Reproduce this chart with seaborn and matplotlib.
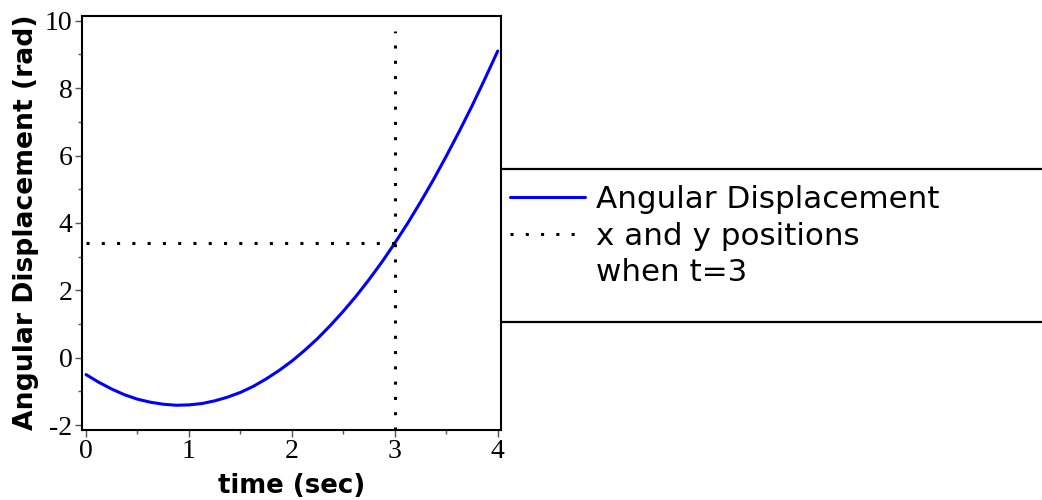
import matplotlib
matplotlib.use("Agg")
import matplotlib.pyplot as plt
from matplotlib.lines import Line2D
from matplotlib.ticker import MultipleLocator
import seaborn as sns
import pandas as pd

# Angular displacement of the body over time (rad), sampled every 0.125 s
time_sec = [0.0, 0.125, 0.25, 0.375, 0.5, 0.625, 0.75, 0.875, 1.0,
            1.125, 1.25, 1.375, 1.5, 1.625, 1.75, 1.875, 2.0,
            2.125, 2.25, 2.375, 2.5, 2.625, 2.75, 2.875, 3.0,
            3.125, 3.25, 3.375, 3.5, 3.625, 3.75, 3.875, 4.0]
angle_rad = [-0.50, -0.73, -0.93, -1.10, -1.23, -1.32, -1.38, -1.41, -1.40,
             -1.36, -1.28, -1.17, -1.03, -0.85, -0.63, -0.38, -0.10,
             0.22, 0.57, 0.96, 1.38, 1.83, 2.32, 2.84, 3.40,
             3.99, 4.62, 5.28, 5.98, 6.71, 7.47, 8.27, 9.10]

# Guide lines marking the position at t = 3
t_mark = 3.0
angle_mark = 3.40
guide_x_start = 0.0
guide_y_range = [-2.13, 9.7]

x_ticks = [0, 1, 2, 3, 4]
y_ticks = [-2, 0, 2, 4, 6, 8, 10]

# Legend rows; the guide-line label wraps onto a second row
series_labels = ["Angular Displacement", "x and y positions", "when t=3"]

sns.set_style("white")
plt.rcParams["font.family"] = ["DejaVu Sans"]
plt.rcParams["text.color"] = "black"
plt.rcParams["axes.labelcolor"] = "black"
plt.rcParams["xtick.color"] = "black"
plt.rcParams["ytick.color"] = "black"

df = pd.DataFrame({"time": time_sec, "angle": angle_rad})

W, H = 1042, 500
fig = plt.figure(figsize=(W / 100, H / 100), dpi=100)
ax = fig.add_axes([82 / W, 1 - 429.5 / H, (501 - 82) / W, (429.5 - 16) / H])

sns.lineplot(data=df, x="time", y="angle", ax=ax, color=(0, 0, 1),
             linewidth=2.2, legend=False)
curve_line = ax.get_lines()[0]

dot_style = dict(color="black", linewidth=2.2, linestyle=(0, (1, 4)),
                 dash_capstyle="butt")
guide_line, = ax.plot([guide_x_start, t_mark], [angle_mark, angle_mark],
                      **dot_style)
ax.plot([t_mark, t_mark], guide_y_range, **dot_style)

ax.set_xlim(-0.039, 4.032)
ax.set_ylim(-2.13, 10.14)
ax.set_xticks(x_ticks)
ax.set_yticks(y_ticks)
ax.xaxis.set_minor_locator(MultipleLocator(0.5))
ax.yaxis.set_minor_locator(MultipleLocator(1))

tick_font = dict(family="Liberation Serif", size=20, color="black")
ax.set_xticklabels([str(v) for v in x_ticks], fontdict=tick_font)
ax.set_yticklabels([str(v) for v in y_ticks], fontdict=tick_font)
ax.tick_params(which="major", direction="out", length=5, width=1,
               color="#555555", pad=2)
ax.tick_params(which="minor", direction="out", length=3, width=1,
               color="#555555")
ax.tick_params(axis="x", which="both", bottom=True)
ax.tick_params(axis="y", which="both", left=True)

for spine in ax.spines.values():
    spine.set_visible(True)
    spine.set_color("black")
    spine.set_linewidth(1.5)

ax.set_xlabel("time (sec)", fontsize=18.7, fontweight="bold", labelpad=6,
              color="black")
ax.set_ylabel("Angular Displacement (rad)", fontsize=19.2, fontweight="bold",
              labelpad=4, color="black")

# Legend panel: open-ended box formed by a top and bottom rule
for y_px in (169, 322):
    fig.add_artist(Line2D([501 / W, 1.0], [1 - y_px / H, 1 - y_px / H],
                          transform=fig.transFigure, color="black",
                          linewidth=1.6))

blank_handle = Line2D([], [], linestyle="none")
leg = fig.legend([curve_line, guide_line, blank_handle], series_labels,
                 loc="upper left", bbox_to_anchor=(501 / W, 1 - 176 / H),
                 borderaxespad=0, fontsize=22.3, frameon=False,
                 handlelength=2.4, handletextpad=0.36, labelspacing=0.24,
                 borderpad=0.3)
for txt in leg.get_texts():
    txt.set_color("black")

fig.savefig("out.png", dpi=100)
